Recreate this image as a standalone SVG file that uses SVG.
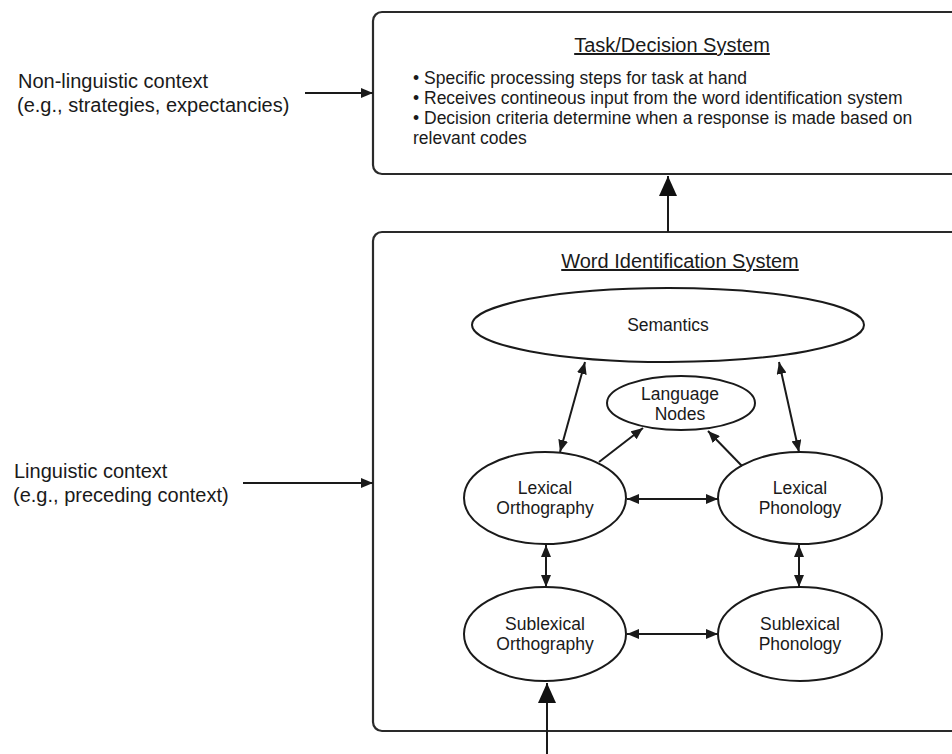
<svg xmlns="http://www.w3.org/2000/svg" width="952" height="754" viewBox="0 0 952 754">
<style>
text{font-family:"Liberation Sans",Arial,sans-serif;fill:#1a1a1a}
.ctx{font-size:20px}
.title{font-size:20px;text-anchor:middle;text-decoration:underline}
.body{font-size:17.5px}
.lbl{font-size:17.5px;text-anchor:middle}
.box{fill:#fff;stroke:#2a2a2a;stroke-width:2.2}
.node{fill:#fff;stroke:#1a1a1a;stroke-width:2}
.ln{stroke:#1a1a1a;stroke-width:2;fill:none}
.sm{marker-end:url(#ah);marker-start:url(#ah)}
.one{marker-end:url(#ah)}
.big{marker-end:url(#bh)}
</style>
<defs>
<marker id="ah" viewBox="0 0 12 10" refX="12" refY="5" markerWidth="12" markerHeight="10" markerUnits="userSpaceOnUse" orient="auto-start-reverse">
<path d="M0,0 L12,5 L0,10 z" fill="#1a1a1a"/>
</marker>
<marker id="bh" viewBox="0 0 20 18" refX="20" refY="9" markerWidth="20" markerHeight="18" markerUnits="userSpaceOnUse" orient="auto">
<path d="M0,0 L20,9 L0,18 z" fill="#111"/>
</marker>
</defs>
<rect width="952" height="754" fill="#fff"/>

<g id="task-system">
<rect class="box" x="373" y="12" width="600" height="162" rx="9"/>
<text class="title" x="672" y="52">Task/Decision System</text>
<text class="body" x="413" y="84">• Specific processing steps for task at hand</text>
<text class="body" x="413" y="104">• Receives contineous input from the word identification system</text>
<text class="body" x="413" y="124">• Decision criteria determine when a response is made based on</text>
<text class="body" x="413" y="144">relevant codes</text>
</g>

<g id="word-id-system">
<rect class="box" x="373" y="232" width="600" height="499" rx="9"/>
<text class="title" x="680" y="268">Word Identification System</text>
</g>

<g id="non-linguistic-context">
<text class="ctx" x="18" y="88">Non-linguistic context</text>
<text class="ctx" x="17" y="112">(e.g., strategies, expectancies)</text>
</g>

<g id="linguistic-context">
<text class="ctx" x="14" y="478">Linguistic context</text>
<text class="ctx" x="13" y="502">(e.g., preceding context)</text>
</g>

<g id="semantics">
<ellipse class="node" cx="668" cy="325" rx="196" ry="37"/>
<text class="lbl" x="668" y="331">Semantics</text>
</g>

<g id="language-nodes">
<ellipse class="node" cx="681" cy="403" rx="74" ry="27"/>
<text class="lbl" x="680" y="400">Language</text>
<text class="lbl" x="680" y="420">Nodes</text>
</g>

<g id="lexical-orthography">
<ellipse class="node" cx="545" cy="498" rx="81" ry="46"/>
<text class="lbl" x="545" y="494">Lexical</text>
<text class="lbl" x="545" y="514">Orthography</text>
</g>

<g id="lexical-phonology">
<ellipse class="node" cx="800" cy="498" rx="82" ry="46"/>
<text class="lbl" x="800" y="494">Lexical</text>
<text class="lbl" x="800" y="514">Phonology</text>
</g>

<g id="sublexical-orthography">
<ellipse class="node" cx="545" cy="634" rx="81" ry="47"/>
<text class="lbl" x="545" y="630">Sublexical</text>
<text class="lbl" x="545" y="650">Orthography</text>
</g>

<g id="sublexical-phonology">
<ellipse class="node" cx="800" cy="634" rx="82" ry="47"/>
<text class="lbl" x="800" y="630">Sublexical</text>
<text class="lbl" x="800" y="650">Phonology</text>
</g>

<g id="connectors">
<line class="ln one" x1="305" y1="93" x2="373" y2="93"/>
<line class="ln one" x1="243" y1="483" x2="373" y2="483"/>
<line class="ln big" x1="668" y1="232" x2="668" y2="176"/>
<line class="ln big" x1="547" y1="754" x2="547" y2="683"/>
<line class="ln sm" x1="585" y1="362" x2="560" y2="452"/>
<line class="ln sm" x1="779" y1="362" x2="799" y2="452"/>
<line class="ln one" x1="599" y1="462" x2="643" y2="428"/>
<line class="ln one" x1="742" y1="466" x2="708" y2="431"/>
<line class="ln sm" x1="627" y1="499" x2="718" y2="499"/>
<line class="ln sm" x1="627" y1="634" x2="718" y2="634"/>
<line class="ln sm" x1="546" y1="545" x2="546" y2="587"/>
<line class="ln sm" x1="799" y1="545" x2="799" y2="587"/>
</g>
</svg>
